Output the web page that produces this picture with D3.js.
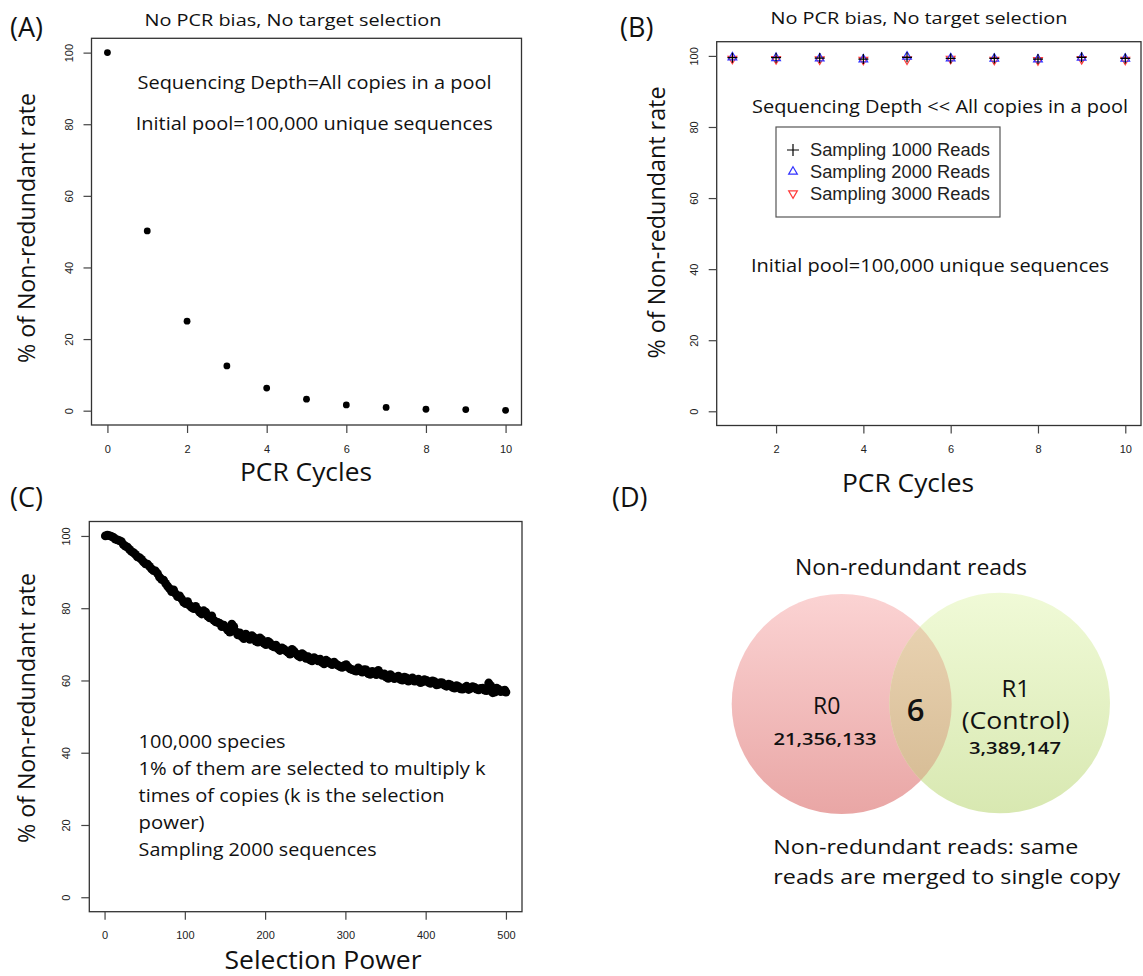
<!DOCTYPE html>
<html>
<head>
<meta charset="utf-8">
<script src="https://cdn.jsdelivr.net/npm/d3@7"></script>
<style>
  body { margin: 0; background: #fff; }
  svg { display: block; }
  .lbl { font-family: "Open Sans", sans-serif; fill: #111; }
  .tick text { font-family: "Liberation Sans", Arial, sans-serif; font-size: 11px; fill: #222; }
  .tick line { stroke: #444; stroke-width: 1.2; }
</style>
</head>
<body>
<div id="chart"></div>
<script>
// ---- data ----
const pcrCycles = [0, 1, 2, 3, 4, 5, 6, 7, 8, 9, 10];
const nonRedundantA = [100, 50.2, 25.0, 12.5, 6.3, 3.2, 1.6, 0.9, 0.4, 0.3, 0.1];

const samplingCycles = [1, 2, 3, 4, 5, 6, 7, 8, 9, 10];
const sampling1000 = [99.5, 99.5, 99.4, 99.1, 99.6, 99.3, 99.3, 99.1, 99.6, 99.3];
const sampling2000 = [99.6, 99.4, 99.3, 99.0, 99.8, 99.3, 99.2, 99.0, 99.5, 99.2];
const sampling3000 = [99.2, 99.1, 99.0, 98.9, 99.0, 99.2, 98.9, 98.8, 99.1, 98.9];
const legendLabels = ["Sampling 1000 Reads", "Sampling 2000 Reads", "Sampling 3000 Reads"];

// selection power curve (two interleaved readings of the dense point cloud)
const selectionPower = [1, 6, 11, 16, 21, 26, 31, 36, 41, 46, 51, 56, 61, 66, 71, 76, 81, 86, 91, 96,
  101, 106, 111, 116, 121, 126, 131, 136, 141, 146, 151, 156, 161, 166, 171, 176, 181, 186, 191, 196,
  201, 206, 211, 216, 221, 226, 231, 236, 241, 246, 251, 256, 261, 266, 271, 276, 281, 286, 291, 296,
  301, 306, 311, 316, 321, 326, 331, 336, 341, 346, 351, 356, 361, 366, 371, 376, 381, 386, 391, 396,
  401, 406, 411, 416, 421, 426, 431, 436, 441, 446, 451, 456, 461, 466, 471, 476, 481, 486, 491, 496, 500];
const nonRedundantC = [100.0, 100.1, 99.6, 98.9, 98.4, 97.2, 96.3, 95.4, 94.2, 93.5,
  92.3, 91.6, 90.4, 89.6, 88.0, 86.9, 85.4, 85.1, 83.2, 82.6,
  81.3, 80.8, 79.9, 79.6, 78.4, 78.9, 77.3, 76.7, 76.1, 74.9,
  74.6, 73.4, 74.9, 72.6, 72.1, 72.8, 71.4, 71.9, 70.6, 71.3,
  69.9, 70.4, 69.3, 68.8, 69.0, 68.2, 67.3, 68.1, 66.9, 67.4,
  66.1, 65.7, 66.3, 65.4, 65.0, 65.6, 64.7, 65.1, 64.2, 63.6,
  64.4, 63.2, 62.8, 63.5, 62.3, 62.9, 61.7, 62.2, 62.8, 61.4,
  60.9, 61.6, 60.5, 61.2, 60.1, 60.7, 60.3, 59.8, 60.4, 59.6,
  60.0, 59.2, 59.7, 58.9, 59.3, 58.4, 58.8, 57.9, 58.3, 57.6,
  58.4, 57.8, 58.1, 57.4, 57.9, 57.2, 58.6, 56.8, 57.5, 57.1, 56.8];
const selectionPowerMid = [3.5, 8.5, 13.5, 18.5, 23.5, 28.5, 33.5, 38.5, 43.5, 48.5,
  53.5, 58.5, 63.5, 68.5, 73.5, 78.5, 83.5, 88.5, 93.5, 98.5,
  103.5, 108.5, 113.5, 118.5, 123.5, 128.5, 133.5, 138.5, 143.5, 148.5,
  153.5, 158.5, 163.5, 168.5, 173.5, 178.5, 183.5, 188.5, 193.5, 198.5,
  203.5, 208.5, 213.5, 218.5, 223.5, 228.5, 233.5, 238.5, 243.5, 248.5,
  253.5, 258.5, 263.5, 268.5, 273.5, 278.5, 283.5, 288.5, 293.5, 298.5,
  303.5, 308.5, 313.5, 318.5, 323.5, 328.5, 333.5, 338.5, 343.5, 348.5,
  353.5, 358.5, 363.5, 368.5, 373.5, 378.5, 383.5, 388.5, 393.5, 398.5,
  403.5, 408.5, 413.5, 418.5, 423.5, 428.5, 433.5, 438.5, 443.5, 448.5,
  453.5, 458.5, 463.5, 468.5, 473.5, 478.5, 483.5, 488.5, 493.5, 498.5];
const nonRedundantCMid = [100.2, 99.9, 99.1, 98.7, 97.6, 96.9, 95.7, 94.9, 94.0, 92.8,
  92.2, 90.9, 90.3, 88.6, 87.8, 86.1, 84.6, 84.0, 83.4, 81.7,
  81.8, 80.2, 80.5, 78.9, 79.3, 77.8, 77.9, 76.2, 75.8, 75.3,
  73.9, 75.6, 73.5, 73.2, 71.6, 72.3, 72.4, 70.9, 71.8, 70.3,
  70.8, 69.6, 69.8, 68.3, 68.7, 67.8, 68.6, 67.4, 66.5, 67.0,
  66.6, 65.4, 65.9, 65.9, 64.6, 65.2, 64.4, 64.5, 63.8, 64.1,
  63.7, 63.0, 62.6, 62.9, 63.0, 61.9, 62.5, 61.6, 62.0, 61.8,
  60.6, 61.1, 60.9, 60.3, 60.9, 59.8, 60.7, 59.9, 59.4, 60.2,
  59.5, 59.9, 58.8, 59.4, 58.7, 59.0, 58.1, 58.6, 57.7, 58.0,
  57.5, 58.3, 57.6, 57.8, 57.3, 59.3, 56.6, 57.9, 56.9, 57.3];

const yTicks = [0, 20, 40, 60, 80, 100];
const xTicksA = [0, 2, 4, 6, 8, 10];
const xTicksB = [2, 4, 6, 8, 10];
const xTicksC = [0, 100, 200, 300, 400, 500];

const vennSets = ["R0", "R1"];
const vennCounts = ["21,356,133", "3,389,147"];
const vennOverlap = "6";

// ---- svg ----
const W = 1143, H = 976;
const svg = d3.select("#chart").append("svg").attr("width", W).attr("height", H);
svg.append("rect").attr("width", W).attr("height", H).attr("fill", "#fff");

function label(x, y, str, size, opts = {}) {
  const t = svg.append("text")
    .attr("class", "lbl")
    .attr("x", x).attr("y", y)
    .attr("font-size", size)
    .attr("text-anchor", opts.anchor || "start")
    .text(str);
  if (opts.len) t.attr("textLength", opts.len).attr("lengthAdjust", "spacingAndGlyphs");
  if (opts.rotate) t.attr("transform", `rotate(-90, ${x}, ${y})`);
  if (opts.weight) t.attr("font-weight", opts.weight);
  return t;
}

// R-like frame with axes
function frame(x, y, xTicks) {
  const [x0, x1] = x.range();
  const [y0, y1] = y.range();
  svg.append("rect")
    .attr("x", x0).attr("y", y1)
    .attr("width", x1 - x0).attr("height", y0 - y1)
    .attr("fill", "none").attr("stroke", "#333").attr("stroke-width", 1.3);

  const ya = svg.append("g")
    .attr("transform", `translate(${x0},0)`)
    .call(d3.axisLeft(y).tickValues(yTicks).tickSize(8).tickFormat(d3.format("d")));
  ya.select(".domain").remove();
  ya.selectAll(".tick text")
    .attr("x", 0).attr("y", -19).attr("dy", 0)
    .attr("text-anchor", "middle")
    .attr("transform", "rotate(-90)");

  const xa = svg.append("g")
    .attr("transform", `translate(0,${y0})`)
    .call(d3.axisBottom(x).tickValues(xTicks).tickSize(8).tickPadding(12).tickFormat(d3.format("d")));
  xa.select(".domain").remove();
}

// ---- Panel A ----
const xA = d3.scaleLinear().domain([-0.4, 10.4]).range([91.5, 521.5]);
const yA = d3.scaleLinear().domain([-4, 104]).range([425, 38.3]);
frame(xA, yA, xTicksA);
svg.append("g").selectAll("circle")
  .data(pcrCycles)
  .join("circle")
  .attr("cx", d => xA(d))
  .attr("cy", (d, i) => yA(nonRedundantA[i]))
  .attr("r", 3.4)
  .attr("fill", "#000");

label(10, 37, "(A)", 27);
label(293, 26, "No PCR bias, No target selection", 17, { anchor: "middle", len: 297 });
label(137.5, 89, "Sequencing Depth=All copies in a pool", 19, { len: 354 });
label(135.7, 129.5, "Initial pool=100,000 unique sequences", 19, { len: 357 });
label(35, 228, "% of Non-redundant rate", 23, { anchor: "middle", rotate: true, len: 270 });
label(306, 481, "PCR Cycles", 25, { anchor: "middle", len: 132 });

// ---- Panel B ----
const xB = d3.scaleLinear().domain([0.64, 10.36]).range([716.7, 1141]);
const yB = d3.scaleLinear().domain([-4, 104]).range([425.5, 41.7]);
frame(xB, yB, xTicksB);

const plusPath = s => `M${-s},0H${s}M0,${-s}V${s}`;
const triUp = s => `M0,${-s}L${s * 0.87},${s * 0.5}L${-s * 0.87},${s * 0.5}Z`;
const triDown = s => `M0,${s}L${s * 0.87},${-s * 0.5}L${-s * 0.87},${-s * 0.5}Z`;

const seriesB = [
  { values: sampling3000, color: "#ff3b3b", shape: triDown },
  { values: sampling2000, color: "#3333ff", shape: triUp },
  { values: sampling1000, color: "#000", shape: plusPath }
];
seriesB.forEach(s => {
  svg.append("g").selectAll("path")
    .data(samplingCycles)
    .join("path")
    .attr("transform", (d, i) => `translate(${xB(d)},${yB(s.values[i])})`)
    .attr("d", s.shape(5))
    .attr("fill", "none")
    .attr("stroke", s.color)
    .attr("stroke-width", 1.2);
});

// legend
svg.append("rect")
  .attr("x", 776).attr("y", 127).attr("width", 224).attr("height", 90)
  .attr("fill", "#fff").attr("stroke", "#555").attr("stroke-width", 1.2);
const legendSeries = [seriesB[2], seriesB[1], seriesB[0]];
legendLabels.forEach((lab, i) => {
  const cy = 150 + i * 21.7;
  svg.append("path")
    .attr("transform", `translate(793,${cy})`)
    .attr("d", legendSeries[i].shape(i === 0 ? 6 : 5))
    .attr("fill", "none")
    .attr("stroke", legendSeries[i].color)
    .attr("stroke-width", 1.2);
  svg.append("text")
    .attr("x", 810).attr("y", cy + 6.3)
    .attr("font-family", "Liberation Sans, Arial, sans-serif")
    .attr("font-size", 17.5)
    .attr("fill", "#222")
    .attr("textLength", 180).attr("lengthAdjust", "spacingAndGlyphs")
    .text(lab);
});

label(620, 37, "(B)", 27);
label(919, 24, "No PCR bias, No target selection", 17, { anchor: "middle", len: 297 });
label(752, 112.5, "Sequencing Depth << All copies in a pool", 19, { len: 376 });
label(751, 272, "Initial pool=100,000 unique sequences", 19, { len: 358 });
label(665, 222.5, "% of Non-redundant rate", 23, { anchor: "middle", rotate: true, len: 272 });
label(908, 492, "PCR Cycles", 25, { anchor: "middle", len: 132 });

// ---- Panel C ----
const xC = d3.scaleLinear().domain([-19, 520]).range([89.3, 522]);
const yC = d3.scaleLinear().domain([-4, 104]).range([911.7, 521.5]);
frame(xC, yC, xTicksC);
const cloud = svg.append("g");
[[selectionPower, nonRedundantC], [selectionPowerMid, nonRedundantCMid]].forEach(([xs, ys]) => {
  cloud.append("g").selectAll("circle")
    .data(xs)
    .join("circle")
    .attr("cx", d => xC(d))
    .attr("cy", (d, i) => yC(ys[i]))
    .attr("r", 4.4)
    .attr("fill", "#000");
});

label(10, 507, "(C)", 27);
label(35, 708, "% of Non-redundant rate", 23, { anchor: "middle", rotate: true, len: 270 });
label(323, 969, "Selection Power", 26, { anchor: "middle", len: 197 });
const cLines = [
  ["100,000 species", 147],
  ["1% of them are selected to multiply k", 347],
  ["times of copies (k is the selection", 306],
  ["power)", 66],
  ["Sampling 2000 sequences", 238]
];
cLines.forEach((l, i) => label(138.6, 748 + i * 27, l[0], 18.5, { len: l[1] }));

// ---- Panel D : Venn ----
const defs = svg.append("defs");
function grad(id, top, bottom) {
  const g = defs.append("linearGradient").attr("id", id)
    .attr("x1", 0).attr("y1", 0).attr("x2", 0).attr("y2", 1);
  g.append("stop").attr("offset", "0%").attr("stop-color", top);
  g.append("stop").attr("offset", "100%").attr("stop-color", bottom);
}
grad("gPink", "#fbd3d3", "#e9a6a5");
grad("gGreen", "#f0fad7", "#d8e8b1");
grad("gTan", "#ecd6b6", "#d4b991");

const vennCircles = [
  { cx: 841.7, cy: 704, r: 110, fill: "url(#gPink)" },
  { cx: 999.7, cy: 703, r: 110.3, fill: "url(#gGreen)" }
];
defs.append("clipPath").attr("id", "clipLeft")
  .append("circle").attr("cx", vennCircles[0].cx).attr("cy", vennCircles[0].cy).attr("r", vennCircles[0].r);

svg.append("g").selectAll("circle")
  .data(vennCircles)
  .join("circle")
  .attr("cx", d => d.cx).attr("cy", d => d.cy).attr("r", d => d.r)
  .attr("fill", d => d.fill);
svg.append("circle")
  .attr("cx", vennCircles[1].cx).attr("cy", vennCircles[1].cy).attr("r", vennCircles[1].r)
  .attr("fill", "url(#gTan)")
  .attr("clip-path", "url(#clipLeft)");

label(612, 507, "(D)", 27);
label(911, 575, "Non-redundant reads", 21.5, { anchor: "middle", len: 232 });
label(826.7, 714, vennSets[0], 23, { anchor: "middle" });
label(825, 744.5, vennCounts[0], 17, { anchor: "middle", len: 103, weight: 600 });
label(915.7, 721, vennOverlap, 31, { anchor: "middle", weight: 600 });
label(1015.7, 697, vennSets[1], 24, { anchor: "middle" });
label(1015.7, 729, "(Control)", 24, { anchor: "middle", len: 108 });
label(1015, 754, vennCounts[1], 16.5, { anchor: "middle", len: 92, weight: 600 });
label(773.3, 854, "Non-redundant reads: same", 20, { len: 305 });
label(773.3, 884, "reads are merged to single copy", 20, { len: 347 });
</script>
</body>
</html>
